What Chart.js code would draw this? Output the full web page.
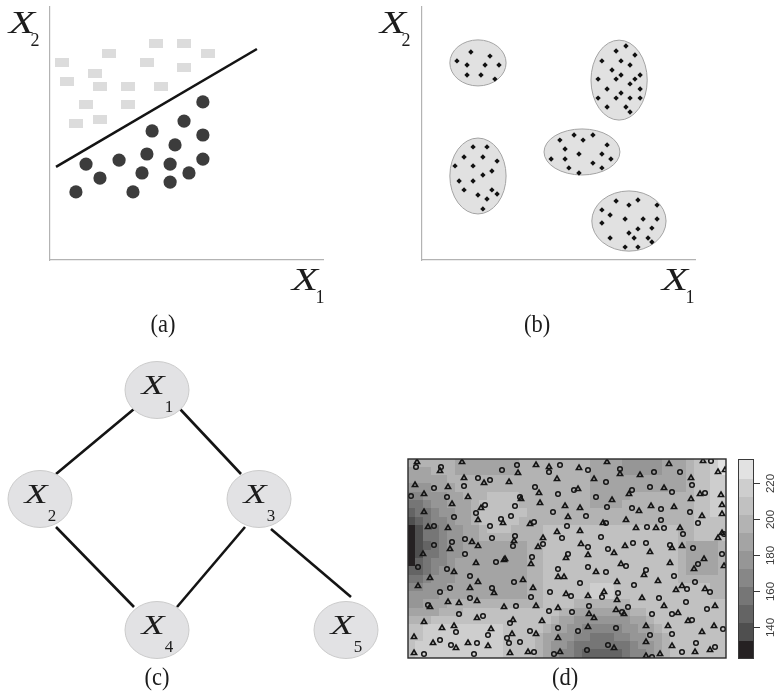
<!DOCTYPE html>
<html>
<head>
<meta charset="utf-8">
<script src="https://cdn.jsdelivr.net/npm/chart.js@4.4.0/dist/chart.umd.min.js"></script>
<style>
    html, body { margin: 0; padding: 0; background: #fff; }
    #wrap { position: relative; width: 777px; height: 696px; overflow: hidden; }
    canvas { position: absolute; }
</style>
</head>
<body>
<div id="wrap">
    <canvas id="ca" width="370" height="345" style="left:0;top:0"></canvas>
    <canvas id="cb" width="407" height="345" style="left:370px;top:0"></canvas>
    <canvas id="cc" width="400" height="351" style="left:0;top:345px"></canvas>
    <canvas id="cd" width="377" height="351" style="left:400px;top:345px"></canvas>
</div>
<script>
// ---- (a) two classes and a separating line (axes 0..100)
const squarePts = [[4.4,77.9],[21.6,81.8],[38.8,85.4],[49.1,85.4],[57.9,81.8],[35.5,77.9],[49.1,75.9],[16.5,73.9],
    [6.2,70.4],[18.3,68.4],[28.6,68.4],[40.7,68.4],[13.2,61.3],[28.6,61.3],[18.3,55.7],[9.5,53.8]];
const dotPts = [[9.5,26.9],[18.3,32.4],[13.2,37.9],[25.3,39.5],[30.4,26.9],[35.5,41.9],[33.7,34.4],[37.4,51.0],
    [44.0,37.9],[44.0,30.8],[45.8,45.5],[49.1,54.9],[50.9,34.4],[56.0,62.5],[56.0,49.4],[56.0,39.9]];
const splitLine = [[2.2,36.8],[75.8,83.4]];

// ---- (b) five clusters (axes 0..100)
const clusterX = [20.5, 72.2, 58.6, 20.5, 75.8];
const clusterY = [77.9, 71.1, 42.7, 33.2, 15.4];
const clusterRx = [10.3, 10.3, 13.9, 10.3, 13.6];
const clusterRy = [9.1, 15.8, 9.1, 15.0, 11.9];
const clusterDots = [
    [17.9,82.2],[24.9,80.6],[12.8,78.7],[16.5,77.1],[23.1,77.1],[28.2,77.1],[16.5,73.1],[21.6,73.1],[26.7,71.5],
    [71.1,82.6],[74.7,84.6],[78.0,81.0],[65.9,78.7],[72.9,78.7],[76.2,77.1],[69.6,75.1],[72.9,73.1],[79.9,73.1],
    [64.5,71.5],[71.1,71.5],[78.0,71.5],[76.2,69.6],[67.8,67.6],[72.9,66.0],[79.9,67.6],[64.5,64.0],[71.1,64.0],
    [76.2,64.0],[79.9,64.0],[67.8,60.5],[74.7,60.5],[76.2,58.5],
    [55.7,49.4],[62.6,49.4],[50.5,47.4],[59.0,47.4],[67.8,45.5],[52.4,43.9],[57.5,41.9],[65.9,41.9],[47.3,39.9],
    [52.4,39.9],[69.2,39.9],[53.8,36.4],[62.6,38.3],[65.9,36.4],[57.5,34.4],
    [18.7,44.7],[23.8,44.7],[15.4,40.7],[22.3,40.7],[27.5,39.1],[12.1,37.2],[18.7,37.2],[25.6,35.2],[22.3,33.6],
    [13.6,31.2],[18.7,31.2],[15.4,27.7],[25.6,27.7],[27.5,26.1],[20.5,25.7],[23.8,24.1],[22.3,20.2],
    [71.1,23.3],[75.8,21.7],[79.1,23.7],[86.1,21.7],[65.9,19.8],[68.9,17.8],[74.4,16.2],[81.0,16.2],[86.1,16.2],
    [65.9,14.6],[79.1,12.3],[84.2,12.6],[75.8,10.7],[68.9,8.7],[77.7,8.7],[82.8,8.7],[84.2,7.1],[74.4,5.1],[79.1,5.1]
];

// ---- (c) graph
const nodeNames = ['1', '2', '3', '4', '5'];
const nodeX = [157, 40, 259, 157, 346];
const nodeY = [306, 197, 197, 66, 66];
const edgeStart = [[134,287],[180,287],[56,169],[245,169],[271,167]];
const edgeEnd = [[56,222],[241,222],[134,89],[177,89],[351,99]];

// ---- (d) interpolated surface: 40 x 24 cells, rows top to bottom,
// each row as runs of [contour level, number of cells]
const levelBreaks = [123, 133, 143, 153, 163, 173, 183, 193, 203, 213, 223, 233];
const levelMid = [128, 138, 148, 158, 168, 178, 188, 198, 208, 218, 228];
const levelColors = ['#252122', '#4f4f4f', '#646464', '#767676', '#878787', '#969696',
    '#a4a4a4', '#b3b3b3', '#c1c1c1', '#cecece', '#e2e2e2'];
const heatLevelRuns = [
    [[7,6],[6,8],[7,9],[6,4],[5,5],[6,3],[7,1],[8,2],[9,1],[10,1]],
    [[6,3],[7,3],[6,8],[7,9],[6,4],[5,5],[6,3],[7,1],[8,2],[9,1],[10,1]],
    [[6,5],[7,18],[6,12],[7,1],[8,2],[9,2]],
    [[5,3],[6,3],[7,17],[6,12],[7,1],[8,2],[9,2]],
    [[4,2],[5,3],[6,2],[7,3],[8,4],[7,9],[6,5],[7,8],[8,2],[9,2]],
    [[3,2],[4,1],[5,2],[6,3],[7,1],[8,5],[7,9],[6,4],[7,9],[8,2],[9,2]],
    [[2,1],[3,2],[4,1],[5,2],[6,2],[7,1],[8,6],[7,21],[8,2],[9,2]],
    [[1,1],[2,1],[3,1],[4,2],[5,1],[6,2],[7,1],[8,5],[7,22],[8,4]],
    [[0,1],[1,1],[3,2],[4,1],[5,2],[6,2],[7,1],[8,3],[7,4],[8,17],[7,2],[8,4]],
    [[0,1],[1,1],[3,2],[4,1],[5,2],[6,2],[7,8],[8,17],[7,2],[8,4]],
    [[0,1],[1,1],[2,1],[3,1],[4,1],[5,2],[6,8],[7,2],[8,17],[7,1],[6,4],[7,1]],
    [[0,1],[1,1],[3,2],[4,1],[5,2],[6,8],[7,2],[8,17],[7,1],[6,4],[7,1]],
    [[0,1],[2,1],[3,1],[4,2],[5,1],[6,9],[7,2],[8,17],[7,1],[6,4],[7,1]],
    [[2,2],[3,1],[4,1],[5,2],[6,9],[7,2],[8,17],[7,1],[6,4],[7,1]],
    [[3,2],[4,1],[5,3],[6,9],[7,2],[8,17],[7,6]],
    [[4,2],[5,3],[6,10],[7,2],[8,6],[9,3],[8,12],[7,2]],
    [[5,4],[6,11],[7,2],[8,6],[9,3],[8,12],[7,2]],
    [[5,2],[6,3],[7,12],[8,4],[7,7],[8,12]],
    [[6,4],[7,3],[8,12],[7,2],[6,7],[7,2],[8,10]],
    [[7,3],[8,15],[7,1],[6,2],[5,7],[6,2],[7,1],[8,9]],
    [[8,2],[9,10],[8,5],[7,1],[6,2],[5,2],[4,5],[5,2],[6,2],[7,1],[8,8]],
    [[8,2],[9,10],[8,4],[7,1],[6,2],[5,2],[4,2],[3,3],[4,2],[5,2],[6,2],[7,1],[8,7]],
    [[8,1],[9,11],[8,4],[7,1],[6,1],[5,2],[4,1],[3,7],[4,1],[5,2],[6,1],[7,1],[8,7]],
    [[8,1],[9,11],[8,4],[7,1],[6,1],[5,1],[4,2],[3,1],[2,5],[3,1],[4,2],[5,1],[6,1],[7,1],[8,7]]
];
const barTicks = [140, 160, 180, 200, 220];
const triPts = [
    [9,196],[54,196],[32,187],[110,185],[128,193],[141,191],[56,180],[76,175],[101,176],[149,179],[7,173],[40,171],
    [131,165],[16,164],[60,161],[113,159],[132,155],[44,154],[73,150],[157,152],[70,138],[95,135],[160,141],[16,146],
    [20,131],[40,130],[122,134],[149,126],[64,116],[70,112],[106,117],[135,120],[130,111],[42,109],[15,104],[97,99],[158,100],
    [199,196],[171,190],[212,184],[232,183],[261,194],[295,197],[310,186],[317,188],[283,180],[186,179],[170,169],[256,170],
    [221,164],[204,158],[292,164],[313,163],[283,159],[172,150],[231,147],[243,152],[266,151],[314,153],[314,144],[218,138],
    [294,142],[195,135],[228,130],[248,130],[272,130],[172,127],[314,125],[310,120],[173,114],[206,105],[217,112],[264,110],
    [274,112],[180,103],[242,106],
    [68,95],[96,98],[123,94],[46,86],[70,76],[22,80],[10,72],[62,70],[86,65],[115,78],[125,70],[150,81],[156,81],[158,64],
    [40,56],[51,55],[69,57],[22,51],[96,51],[128,52],[150,50],[69,40],[16,36],[34,30],[46,32],[83,29],[105,38],[134,37],
    [128,24],[104,24],[150,20],[6,21],[25,15],[48,10],[60,15],[80,12],[6,5],[102,5],[120,6],[152,6],
    [188,86],[213,94],[236,83],[262,95],[296,99],[286,89],[316,92],[209,76],[250,77],[274,72],[268,68],[297,69],[180,62],
    [196,66],[209,58],[234,60],[307,52],[256,52],[208,48],[216,44],[181,44],[186,40],[270,45],[280,37],[180,31],[238,32],
    [260,32],[306,32],[294,26],[238,16],[264,12],[302,8],[287,6],[206,10],[238,2],[252,4]
];
const circPts = [
    [8,191],[33,191],[94,188],[109,193],[141,186],[152,193],[70,180],[82,178],[26,170],[56,172],[127,171],[150,164],[3,162],
    [39,161],[112,161],[77,153],[107,152],[68,145],[46,141],[103,142],[93,139],[145,146],[26,132],[82,132],[126,136],[159,132],
    [57,119],[84,120],[107,122],[105,112],[135,114],[154,120],[26,113],[44,116],[57,104],[124,101],[160,104],
    [180,188],[212,189],[246,186],[272,186],[303,197],[284,173],[198,176],[166,168],[242,171],[264,166],[224,168],[188,161],
    [297,165],[199,151],[224,150],[253,149],[282,146],[178,142],[253,138],[290,135],[198,135],[239,131],[256,130],[275,124],
    [193,121],[316,124],[180,111],[200,109],[225,115],[238,115],[262,113],[285,110],[314,104],
    [10,91],[88,96],[39,89],[62,82],[32,66],[42,70],[84,70],[106,76],[123,61],[142,66],[150,89],[62,60],[20,53],[108,52],
    [141,47],[51,44],[75,42],[48,26],[80,23],[102,35],[150,30],[122,27],[99,20],[101,15],[112,16],[32,18],[43,13],[69,15],
    [16,4],[66,4],[126,6],[146,4],
    [180,91],[218,92],[198,86],[238,88],[290,94],[172,75],[226,73],[266,82],[287,76],[279,69],[302,66],[163,62],[194,61],
    [210,65],[251,60],[278,56],[299,49],[181,52],[220,51],[214,46],[164,46],[244,44],[264,44],[284,38],[170,27],[208,30],
    [315,29],[242,23],[264,24],[288,15],[307,11],[274,6],[200,13],[179,8],[244,1]
];

const SERIF = '"Liberation Serif", "Times New Roman", serif';
const toXY = pts => pts.map(p => ({ x: p[0], y: p[1] }));

// expand the run-length rows into cell values
const heatRows = heatLevelRuns.map(runs => {
    const row = [];
    runs.forEach(([lev, n]) => { for (let i = 0; i < n; i++) row.push(levelMid[lev]); });
    return row;
});

function drawVar(ctx, cx, base, size, sub, sx, sb, ssize) {
    ctx.save();
    ctx.fillStyle = '#1c1c1c';
    ctx.font = `italic ${size}px ${SERIF}`;
    ctx.textAlign = 'center';
    ctx.textBaseline = 'alphabetic';
    ctx.translate(cx, base);
    ctx.scale(1.35, 1);
    ctx.fillText('X', 0, 0);
    ctx.restore();
    ctx.save();
    ctx.fillStyle = '#1c1c1c';
    ctx.font = `${ssize}px ${SERIF}`;
    ctx.textAlign = 'center';
    ctx.textBaseline = 'alphabetic';
    ctx.fillText(sub, sx, sb);
    ctx.restore();
}

function panelLabel(ctx, text, cx, cy) {
    ctx.save();
    ctx.fillStyle = '#1c1c1c';
    ctx.font = `25px ${SERIF}`;
    ctx.textAlign = 'center';
    ctx.textBaseline = 'middle';
    ctx.translate(cx, cy);
    ctx.scale(0.9, 1);
    ctx.fillText(text, 0, 0);
    ctx.restore();
}

function axisOpts(max) {
    return {
        type: 'linear', min: 0, max: max,
        grid: { display: false, drawTicks: false },
        ticks: { display: false },
        border: { display: true, color: '#b3b3b3', width: 1.2 },
        afterFit: s => { if (s.isHorizontal()) s.height = 0; else s.width = 0; },
    };
}

const base = {
    responsive: false, animation: false, devicePixelRatio: 1, events: [],
    plugins: { legend: { display: false }, tooltip: { enabled: false } },
};

// ---------- (a)
const rectImg = document.createElement('canvas');
rectImg.width = 14; rectImg.height = 9;
const rc = rectImg.getContext('2d');
rc.fillStyle = '#dcdcdc';
rc.fillRect(0, 0, 14, 9);

new Chart(document.getElementById('ca'), {
    type: 'scatter',
    data: {
        datasets: [
            { type: 'line', data: toXY(splitLine), borderColor: '#141414', borderWidth: 2.6, pointRadius: 0, fill: false },
            { data: toXY(squarePts), pointStyle: rectImg, pointRadius: 6 },
            { data: toXY(dotPts), pointStyle: 'circle', pointRadius: 6.6, backgroundColor: '#3c3c3c', borderWidth: 0 },
        ],
    },
    options: {
        ...base,
        layout: { padding: { left: 50, top: 7, right: 47, bottom: 85 } },
        scales: { x: axisOpts(100), y: axisOpts(100) },
    },
    plugins: [{
        id: 'decorA',
        afterDraw(chart) {
            const ctx = chart.ctx;
            drawVar(ctx, 22, 33, 32, '2', 35, 46, 18);
            drawVar(ctx, 305, 290, 32, '1', 320, 303, 18);
            panelLabel(ctx, '(a)', 163, 325);
        },
    }],
});

// ---------- (b)
new Chart(document.getElementById('cb'), {
    type: 'scatter',
    data: {
        datasets: [
            { data: toXY(clusterDots), pointStyle: 'rectRot', pointRadius: 2.7, backgroundColor: '#111', borderWidth: 0 },
        ],
    },
    options: {
        ...base,
        layout: { padding: { left: 52, top: 7, right: 82, bottom: 85 } },
        scales: { x: axisOpts(100), y: axisOpts(100) },
    },
    plugins: [{
        id: 'clusters',
        beforeDatasetsDraw(chart) {
            const { ctx, scales: { x, y } } = chart;
            clusterX.forEach((cx, i) => {
                const px = x.getPixelForValue(cx), py = y.getPixelForValue(clusterY[i]);
                const rx = x.getPixelForValue(cx + clusterRx[i]) - px;
                const ry = py - y.getPixelForValue(clusterY[i] + clusterRy[i]);
                ctx.save();
                ctx.beginPath();
                ctx.ellipse(px, py, rx, ry, 0, 0, Math.PI * 2);
                ctx.fillStyle = '#e1e1e1';
                ctx.fill();
                ctx.strokeStyle = '#a3a3a3';
                ctx.lineWidth = 1;
                ctx.stroke();
                ctx.restore();
            });
        },
        afterDraw(chart) {
            const ctx = chart.ctx;
            drawVar(ctx, 23, 33, 32, '2', 36, 46, 18);
            drawVar(ctx, 305, 290, 32, '1', 320, 303, 18);
            panelLabel(ctx, '(b)', 167, 325);
        },
    }],
});

// ---------- (c)
new Chart(document.getElementById('cc'), {
    type: 'scatter',
    data: {
        datasets: edgeStart.map((s, i) => ({
            type: 'line', data: toXY([s, edgeEnd[i]]), borderColor: '#141414', borderWidth: 2.6, pointRadius: 0, fill: false,
        })),
    },
    options: {
        ...base,
        layout: { padding: 0 },
        scales: {
            x: { type: 'linear', min: 0, max: 400, display: false },
            y: { type: 'linear', min: 0, max: 351, display: false },
        },
    },
    plugins: [{
        id: 'nodes',
        afterDatasetsDraw(chart) {
            const { ctx, scales: { x, y } } = chart;
            nodeX.forEach((nx, i) => {
                const px = x.getPixelForValue(nx), py = y.getPixelForValue(nodeY[i]);
                ctx.save();
                ctx.beginPath();
                ctx.ellipse(px, py, 32, 28.5, 0, 0, Math.PI * 2);
                ctx.fillStyle = '#e2e2e4';
                ctx.fill();
                ctx.strokeStyle = '#cbcbcb';
                ctx.lineWidth = 1;
                ctx.stroke();
                ctx.restore();
                drawVar(ctx, px - 4, py + 4, 28, nodeNames[i], px + 12, py + 22, 17);
            });
            panelLabel(ctx, '(c)', 157, 333);
        },
    }],
});

// ---------- (d)
const levelColor = v => {
    for (let k = levelColors.length - 1; k >= 0; k--) if (v >= levelBreaks[k]) return levelColors[k];
    return levelColors[0];
};

new Chart(document.getElementById('cd'), {
    type: 'scatter',
    data: {
        datasets: [
            { data: toXY(triPts), pointStyle: 'triangle', pointRadius: 3, borderColor: '#151515',
              backgroundColor: 'rgba(0,0,0,0)', borderWidth: 1.6 },
            { data: toXY(circPts), pointStyle: 'circle', pointRadius: 2.3, borderColor: '#151515',
              backgroundColor: 'rgba(0,0,0,0)', borderWidth: 1.5 },
        ],
    },
    options: {
        ...base,
        layout: { padding: { left: 8, top: 114, right: 51, bottom: 38 } },
        scales: {
            x: { type: 'linear', min: 0, max: 318, display: false },
            y: { type: 'linear', min: 0, max: 199, display: false },
            yc: { type: 'linear', min: levelBreaks[0], max: levelBreaks[levelBreaks.length - 1], display: false },
        },
    },
    plugins: [{
        id: 'surface',
        beforeDatasetsDraw(chart) {
            const { ctx, chartArea: a, scales: { x, y } } = chart;
            const nr = heatRows.length, nc = heatRows[0].length;
            const cw = (x.max - x.min) / nc, ch = (y.max - y.min) / nr;
            ctx.save();
            ctx.beginPath();
            ctx.rect(a.left, a.top, a.right - a.left, a.bottom - a.top);
            ctx.clip();
            heatRows.forEach((row, r) => row.forEach((v, c) => {
                const x0 = x.getPixelForValue(x.min + c * cw), x1 = x.getPixelForValue(x.min + (c + 1) * cw);
                const y0 = y.getPixelForValue(y.max - r * ch), y1 = y.getPixelForValue(y.max - (r + 1) * ch);
                ctx.fillStyle = levelColor(v);
                ctx.fillRect(Math.floor(x0), Math.floor(y0), Math.ceil(x1 - x0) + 1, Math.ceil(y1 - y0) + 1);
            }));
            ctx.restore();
        },
        afterDraw(chart) {
            const { ctx, chartArea: a, scales: { yc } } = chart;
            ctx.save();
            ctx.strokeStyle = '#2a2a2a';
            ctx.lineWidth = 1.4;
            ctx.strokeRect(a.left, a.top, a.right - a.left, a.bottom - a.top);

            // colour key
            const bl = a.right + 12, br = a.right + 27;
            levelColors.forEach((col, k) => {
                const t = yc.getPixelForValue(levelBreaks[k + 1]), b = yc.getPixelForValue(levelBreaks[k]);
                ctx.fillStyle = col;
                ctx.fillRect(bl, Math.floor(t), br - bl, Math.ceil(b - t) + 1);
            });
            ctx.strokeStyle = '#3a3a3a';
            ctx.lineWidth = 1;
            ctx.strokeRect(bl + 0.5, yc.top + 0.5, br - bl, yc.bottom - yc.top);
            ctx.fillStyle = '#3a3a3a';
            ctx.font = '11.5px "Liberation Sans", Arial, sans-serif';
            ctx.textAlign = 'center';
            ctx.textBaseline = 'middle';
            barTicks.forEach(t => {
                const py = Math.round(yc.getPixelForValue(t)) + 0.5;
                ctx.beginPath();
                ctx.moveTo(br, py);
                ctx.lineTo(br + 7, py);
                ctx.stroke();
                ctx.save();
                ctx.translate(br + 18, py);
                ctx.rotate(-Math.PI / 2);
                ctx.fillText(String(t), 0, 0);
                ctx.restore();
            });
            ctx.restore();
            panelLabel(ctx, '(d)', 165, 333);
        },
    }],
});
</script>
</body>
</html>
